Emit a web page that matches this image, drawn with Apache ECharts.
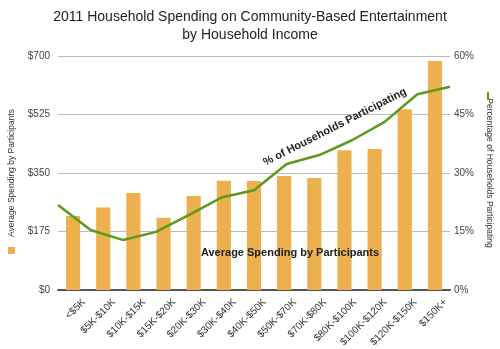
<!DOCTYPE html>
<html>
<head>
<meta charset="utf-8">
<script src="https://cdn.jsdelivr.net/npm/echarts@6/dist/echarts.min.js"></script>
<style>
html,body{margin:0;padding:0;background:#fff;}
#chart{width:500px;height:349px;}
</style>
</head>
<body>
<div id="chart"></div>
<script>
var categories = ['<$5K','$5K-$10K','$10K-$15K','$15K-$20K','$20K-$30K','$30K-$40K','$40K-$50K','$50K-$70K','$70K-$80K','$80K-$100K','$100K-$120K','$120K-$150K','$150K+'];
var spending = [221, 247, 290, 216, 281, 327, 326, 341, 335, 418, 422, 541, 685];
var participation = [21.8, 15.4, 12.8, 14.9, 19.2, 23.7, 25.6, 32.3, 34.6, 38.4, 43.1, 50.2, 52.1];
var leftTicks = [0, 175, 350, 525, 700];
var rightTicks = [0, 15, 30, 45, 60];

var FONT = '"Liberation Sans", Arial, Helvetica, sans-serif';
var chart = echarts.init(document.getElementById('chart'), null, {renderer:'canvas'});
var option = {
  backgroundColor: '#fff',
  animation: false,
  textStyle: {fontFamily: FONT},
  title: {
    text: '2011 Household Spending on Community-Based Entertainment\nby Household Income',
    left: 'center',
    top: 3,
    textStyle: {fontFamily: FONT, fontSize: 14, fontWeight: 'normal', color: '#222', lineHeight: 18}
  },
  grid: {left: 58, right: 50, top: 56, bottom: 59, containLabel: false, outerBoundsMode: 'none'},
  xAxis: [{
    type: 'category',
    data: categories,
    boundaryGap: true,
    axisLine: {show: true, lineStyle: {color: '#555', width: 2}},
    axisTick: {show: false},
    axisLabel: {rotate: 45, fontSize: 10, color: '#333', margin: 0, lineHeight: 30, interval: 0, fontFamily: FONT,
      formatter: function(v){ return '\n' + v; }}
  }, {
    type: 'category',
    data: categories,
    boundaryGap: false,
    show: false
  }],
  yAxis: [{
    type: 'value',
    min: leftTicks[0], max: leftTicks[leftTicks.length-1], interval: 175,
    position: 'left',
    name: 'Average Spending by Participants',
    nameLocation: 'middle',
    nameRotate: 90,
    nameGap: 42,
    nameTextStyle: {fontSize: 8.5, color: '#333', fontFamily: FONT},
    axisLine: {show: false},
    axisTick: {show: false},
    axisLabel: {formatter: function(v){return '$' + v;}, fontSize: 10, color: '#444', margin: 8, fontFamily: FONT},
    splitLine: {show: true, lineStyle: {color: '#bbb', width: 1}}
  }, {
    type: 'value',
    min: rightTicks[0], max: rightTicks[rightTicks.length-1], interval: 15,
    position: 'right',
    name: 'Percentage of Households Participating',
    nameLocation: 'middle',
    nameRotate: -90,
    nameGap: 35,
    nameTextStyle: {fontSize: 8.5, color: '#333', fontFamily: FONT},
    axisLine: {show: false},
    axisTick: {show: false},
    axisLabel: {formatter: function(v){return v + '%';}, fontSize: 10, color: '#444', margin: 4, fontFamily: FONT},
    splitLine: {show: false}
  }],
  series: [{
    name: 'Average Spending by Participants',
    type: 'bar',
    xAxisIndex: 0, yAxisIndex: 0,
    data: spending,
    barWidth: '47%',
    itemStyle: {color: '#EDB04E'},
    z: 2
  }, {
    name: 'Percentage of Households Participating',
    type: 'line',
    xAxisIndex: 1, yAxisIndex: 1,
    data: participation,
    symbol: 'none',
    lineStyle: {color: '#5A9A1C', width: 2.5},
    z: 3
  }],
  graphic: [
    {type: 'rect', left: 8, top: 247, z: 100, shape: {width: 7, height: 7}, style: {fill: '#EDB04E'}},
    {type: 'rect', left: 487, top: 92, z: 100, shape: {width: 2, height: 8}, style: {fill: '#5A9A1C'}},
    {type: 'text', x: 290, y: 253, z: 100, style: {text: 'Average Spending by Participants', font: 'bold 11px ' + FONT, fill: '#222', align: 'center', verticalAlign: 'middle'}},
    {type: 'text', x: 335, y: 127, z: 100, rotation: 27 * Math.PI / 180, style: {text: '% of Households Participating', font: 'bold 11px ' + FONT, fill: '#222', align: 'center', verticalAlign: 'middle'}}
  ]
};
chart.setOption(option);
</script>
</body>
</html>
